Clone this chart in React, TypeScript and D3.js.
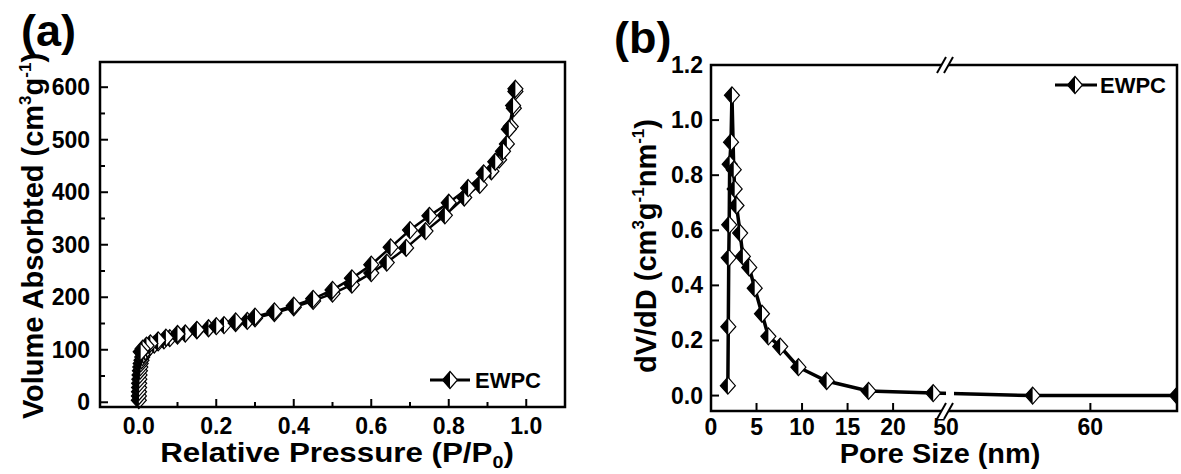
import React from 'react';
import * as d3 from 'd3';

// ---------- data ----------
const adsP = [0.0002, 0.0004, 0.0006, 0.0008, 0.001, 0.0015, 0.002, 0.003, 0.004, 0.005, 0.007, 0.009, 0.012, 0.016, 0.022, 0.03, 0.04, 0.05, 0.065, 0.08, 0.1, 0.12, 0.15, 0.18, 0.22, 0.25, 0.28, 0.3, 0.35, 0.4, 0.45, 0.5, 0.55, 0.6, 0.64, 0.69, 0.74, 0.79, 0.84, 0.88, 0.91, 0.93, 0.95, 0.96, 0.968, 0.972];
const adsV = [4, 12, 20, 28, 36, 44, 52, 60, 67, 74, 80, 86, 91, 97, 102, 106, 110, 114, 118, 122, 127, 131, 137, 141, 147, 151, 155, 160, 170, 181, 193, 207, 224, 246, 266, 294, 326, 356, 390, 414, 440, 462, 492, 525, 560, 592];
const desP = [0.972, 0.966, 0.955, 0.94, 0.92, 0.89, 0.85, 0.8, 0.75, 0.7, 0.65, 0.6, 0.55, 0.5, 0.45, 0.4, 0.35, 0.3, 0.25, 0.2, 0.15, 0.1, 0.07, 0.05, 0.03, 0.02, 0.01, 0.005];
const desV = [597, 565, 520, 478, 458, 436, 408, 380, 355, 328, 295, 262, 236, 214, 197, 184, 173, 163, 154, 145, 138, 130, 123, 118, 112, 108, 102, 96];

const poreSize = [1.85, 1.9, 1.95, 2.0, 2.05, 2.2, 2.3, 2.5, 2.6, 2.8, 3.2, 3.5, 4.2, 4.8, 5.6, 6.3, 7.6, 9.6, 12.7, 17.3, 24.4, 56, 66];
const poreDvdd = [0.036, 0.25, 0.50, 0.62, 0.84, 0.92, 1.09, 0.82, 0.75, 0.69, 0.59, 0.505, 0.465, 0.39, 0.297, 0.215, 0.178, 0.103, 0.053, 0.017, 0.009, 0.0, 0.0];

const aXTicks = [0, 0.2, 0.4, 0.6, 0.8, 1.0];
const aXMinor = [0.1, 0.3, 0.5, 0.7, 0.9];
const aYTicks = [0, 100, 200, 300, 400, 500, 600];
const aYMinor = [50, 150, 250, 350, 450, 550];
const bXTicksLow = [0, 5, 10, 15, 20];
const bXTicksHigh = [50, 60];
const bYTicks = [0, 0.2, 0.4, 0.6, 0.8, 1.0, 1.2];
const seriesName = 'EWPC';

const FONT = '"Liberation Sans", Arial, sans-serif';

// ---------- layout ----------
const A = { l: 100, r: 565, t: 62, b: 407 };
const B = { l: 711, r: 1177, t: 65, b: 411, brk: 945 };

const ax = d3.scaleLinear().domain([-0.1, 1.1]).range([A.l, A.r]);
const ay = d3.scaleLinear().domain([-9, 648]).range([A.b, A.t]);
const bx1 = d3.scaleLinear().domain([0, 25.7]).range([B.l, B.brk]);
const bx2 = d3.scaleLinear().domain([50, 66]).range([B.brk + 1, B.r]);
const bx = (v: number) => (v <= 35 ? bx1(v) : bx2(v));
const by = d3.scaleLinear().domain([-0.056, 1.2]).range([B.b, B.t]);

function Diamond({ cx, cy, w = 7.5, h = 8.5 }: { cx: number; cy: number; w?: number; h?: number }) {
  return (
    <g>
      <path d={`M${cx},${cy - h}L${cx + w},${cy}L${cx},${cy + h}L${cx - w},${cy}Z`} fill="#fff" stroke="#000" strokeWidth={1.2} />
      <path d={`M${cx},${cy - h}L${cx - w},${cy}L${cx},${cy + h}Z`} fill="#000" />
    </g>
  );
}

export default function App() {
  const adsPts: [number, number][] = adsP.map((p, i) => [ax(p), ay(adsV[i])]);
  const desPts: [number, number][] = desP.map((p, i) => [ax(p), ay(desV[i])]);
  const bPts: [number, number][] = poreSize.map((s, i) => [bx(s), by(poreDvdd[i])]);
  const ln = d3.line();

  const tickStyle = { stroke: '#000', strokeWidth: 2 };
  const tickFont = { fontFamily: FONT, fontWeight: 700, fontSize: 23 } as const;

  const brk = (x: number, y: number) => (
    <g>
      <path d={`M${x - 8},${y + 8}L${x + 1},${y - 8}L${x + 8},${y - 8}L${x - 1},${y + 8}Z`} fill="#fff" />
      <line x1={x - 8} y1={y + 8} x2={x + 1} y2={y - 8} stroke="#000" strokeWidth={2} />
      <line x1={x - 1} y1={y + 8} x2={x + 8} y2={y - 8} stroke="#000" strokeWidth={2} />
    </g>
  );

  return (
    <svg width={1181} height={474} style={{ position: 'absolute', left: 0, top: 0, background: '#fff' }}>
      <rect x={0} y={0} width={1181} height={474} fill="#fff" />
      {/* ---------- Panel (a) ---------- */}
      <text x={21} y={46} fontFamily={FONT} fontWeight={700} fontSize={45}>(a)</text>
      {aXTicks.map((t) => (
        <g key={'axt' + t}>
          <line x1={ax(t)} x2={ax(t)} y1={A.b} y2={A.b - 8} style={tickStyle} />
          <text x={ax(t)} y={434} textAnchor="middle" {...tickFont}>{t.toFixed(1)}</text>
        </g>
      ))}
      {aXMinor.map((t) => (
        <line key={'axm' + t} x1={ax(t)} x2={ax(t)} y1={A.b} y2={A.b - 5} style={tickStyle} />
      ))}
      {aYTicks.map((t) => (
        <g key={'ayt' + t}>
          <line x1={A.l} x2={A.l + 8} y1={ay(t)} y2={ay(t)} style={tickStyle} />
          <text x={A.l - 10} y={ay(t) + 8} textAnchor="end" {...tickFont}>{t}</text>
        </g>
      ))}
      {aYMinor.map((t) => (
        <line key={'aym' + t} x1={A.l} x2={A.l + 5} y1={ay(t)} y2={ay(t)} style={tickStyle} />
      ))}
      <path d={ln(adsPts) || ''} fill="none" stroke="#000" strokeWidth={2.5} />
      <path d={ln(desPts) || ''} fill="none" stroke="#000" strokeWidth={2.5} />
      {adsPts.map((p, i) => <Diamond key={'ad' + i} cx={p[0]} cy={p[1]} />)}
      {desPts.map((p, i) => <Diamond key={'de' + i} cx={p[0]} cy={p[1]} />)}
      <rect x={A.l} y={A.t} width={A.r - A.l} height={A.b - A.t} fill="none" stroke="#000" strokeWidth={2.5} />
      {/* legend a */}
      <line x1={430} x2={470} y1={380} y2={380} stroke="#000" strokeWidth={3} />
      <Diamond cx={450} cy={380} />
      <text x={475} y={388} fontFamily={FONT} fontWeight={700} fontSize={22}>{seriesName}</text>
      {/* titles a */}
      <text transform="translate(337,462) scale(1.16,1)" textAnchor="middle" fontFamily={FONT} fontWeight={700} fontSize={27}>
        Relative Pressure (P/P<tspan fontSize={17} dy={6}>0</tspan><tspan dy={-6}>)</tspan>
      </text>
      <text transform="translate(43,236) rotate(-90)" textAnchor="middle" fontFamily={FONT} fontWeight={700} fontSize={29}>
        Volume Absorbted (cm<tspan fontSize={17} dy={-12}>3</tspan><tspan dy={12}>g</tspan><tspan fontSize={17} dy={-12}>-1</tspan><tspan dy={12}>)</tspan>
      </text>

      {/* ---------- Panel (b) ---------- */}
      <text x={614} y={53} fontFamily={FONT} fontWeight={700} fontSize={45}>(b)</text>
      <defs>
        <clipPath id="clipB">
          <rect x={B.l} y={B.t} width={B.r - B.l} height={B.b - B.t} />
        </clipPath>
      </defs>
      {bXTicksLow.map((t) => (
        <g key={'bxl' + t}>
          <line x1={bx1(t)} x2={bx1(t)} y1={B.b} y2={B.b - 8} style={tickStyle} />
          <text x={bx1(t)} y={435} textAnchor="middle" {...tickFont}>{t}</text>
        </g>
      ))}
      {bXTicksHigh.map((t) => (
        <g key={'bxh' + t}>
          {t !== 50 && <line x1={bx2(t)} x2={bx2(t)} y1={B.b} y2={B.b - 8} style={tickStyle} />}
          <text x={bx2(t)} y={435} textAnchor="middle" {...tickFont}>{t}</text>
        </g>
      ))}
      {bYTicks.map((t) => (
        <g key={'byt' + t}>
          <line x1={B.l} x2={B.l + 8} y1={by(t)} y2={by(t)} style={tickStyle} />
          <text x={B.l - 8} y={by(t) + 8} textAnchor="end" {...tickFont}>{t.toFixed(1)}</text>
        </g>
      ))}
      <g clipPath="url(#clipB)">
        <path d={ln(bPts) || ''} fill="none" stroke="#000" strokeWidth={3.5} />
        {bPts.map((p, i) => <Diamond key={'b' + i} cx={p[0]} cy={p[1]} />)}
      </g>
      <rect x={B.l} y={B.t} width={B.r - B.l} height={B.b - B.t} fill="none" stroke="#000" strokeWidth={2.5} />
      <rect x={B.brk + 1} y={B.b - 22} width={8} height={18} fill="#fff" />
      {brk(B.brk, B.t)}
      {brk(B.brk, B.b)}
      {/* legend b */}
      <line x1={1055} x2={1097} y1={85} y2={85} stroke="#000" strokeWidth={3} />
      <Diamond cx={1075} cy={85} />
      <text x={1100} y={93} fontFamily={FONT} fontWeight={700} fontSize={22}>{seriesName}</text>
      {/* titles b */}
      <text transform="translate(940,463) scale(1.07,1)" textAnchor="middle" fontFamily={FONT} fontWeight={700} fontSize={27}>Pore Size (nm)</text>
      <text transform="translate(656,246) rotate(-90)" textAnchor="middle" fontFamily={FONT} fontWeight={700} fontSize={29}>
        dV/dD (cm<tspan fontSize={17} dy={-12}>3</tspan><tspan dy={12}>g</tspan><tspan fontSize={17} dy={-12}>-1</tspan><tspan dy={12}>nm</tspan><tspan fontSize={17} dy={-12}>-1</tspan><tspan dy={12}>)</tspan>
      </text>
    </svg>
  );
}
